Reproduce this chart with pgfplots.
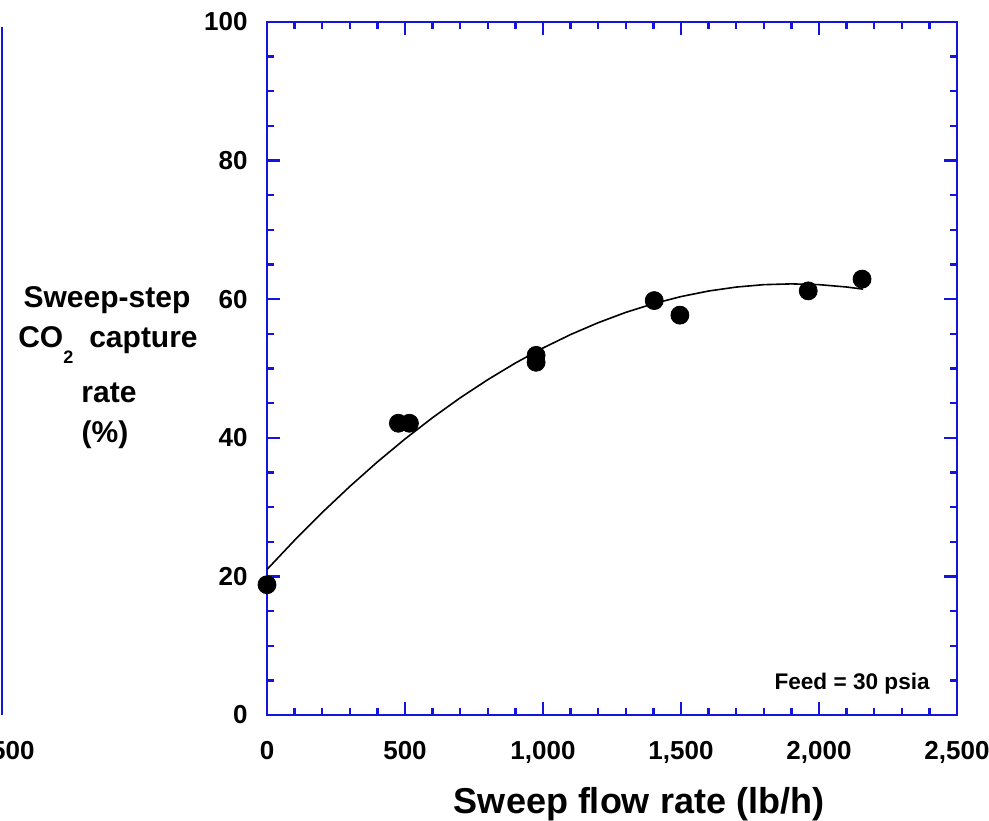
\documentclass[border=0pt]{standalone}
\usepackage{pgfplots}
\pgfplotsset{compat=1.18}
\usepackage{fontspec}
\setmainfont{Liberation Sans}
\definecolor{axblue}{RGB}{20,20,225}

\begin{document}
\begin{tikzpicture}[font=\bfseries]
\begin{axis}[
  scale only axis,
  width=345pt, height=346.5pt,
  xmin=0, xmax=2500, ymin=0, ymax=100,
  clip=false,
  axis line style={draw=axblue, line width=1.2pt},
  tick style={draw=axblue, line width=1.2pt},
  tick align=inside,
  major tick length=6.5pt, minor tick length=3.5pt,
  xtick={0,500,1000,1500,2000,2500},
  ytick={0,20,40,60,80,100},
  minor x tick num=4, minor y tick num=3,
  xticklabels={0,500,{1,000},{1,500},{2,000},{2,500}},
  yticklabels={0,20,40,60,80,100},
  xticklabel style={anchor=north, inner sep=0pt, yshift=-13pt,
    font=\fontsize{13}{13}\selectfont\bfseries},
  yticklabel style={anchor=east, inner sep=0pt, xshift=-9.5pt,
    font=\fontsize{13}{13}\selectfont\bfseries},
]
% fitted curve
\addplot[black, line width=0.8pt, no marks] coordinates {
  (0,21.00) (100,25.22) (200,29.22) (300,32.98) (400,36.52)
  (500,39.83) (600,42.91) (700,45.77) (800,48.39) (900,50.79)
  (1000,52.96) (1100,54.90) (1200,56.61) (1300,58.10) (1400,59.35)
  (1500,60.38) (1600,61.18) (1700,61.75) (1800,62.10) (1900,62.21)
  (2000,62.10) (2100,61.76) (2160,61.45)
};
% measured points
\addplot[only marks, mark=*, mark size=4.5pt, black] coordinates {
  (0,18.8) (476,42.1) (516,42.1) (975,51.9) (975,50.9)
  (1403,59.8) (1496,57.7) (1961,61.2) (2156,62.9)
};
\node[anchor=base east, inner sep=0pt, font=\fontsize{11.3}{11.3}\selectfont\bfseries]
  at (rel axis cs:0.961,0.0361) {Feed = 30 psia};
\end{axis}

\begin{scope}[shift={(current axis.south west)}]
  % labels
  \node[anchor=base, inner sep=0pt, font=\fontsize{18}{18}\selectfont\bfseries]
    at (186pt,-49pt) {Sweep flow rate (lb/h)};
  \begin{scope}[every node/.style={anchor=base, inner sep=0pt,
      font=\fontsize{15}{15}\selectfont\bfseries}]
    \node at (-80pt,204pt) {Sweep-step};
    \node at (-79.5pt,184pt) {CO\raisebox{-8pt}[0pt][0pt]{\fontsize{9}{9}\selectfont 2}\hspace{8pt}capture};
    \node at (-79pt,156.5pt) {rate};
    \node at (-81pt,136.5pt) {(\%)};
  \end{scope}
  % edge of the neighbouring panel
  \draw[axblue, line width=1.3pt] (-132.5pt,0pt) -- (-132.5pt,344pt);
  \node[anchor=north, inner sep=0pt, font=\fontsize{13}{13}\selectfont\bfseries]
    at (-132.5pt,-13pt) {2,500};
  \pgfresetboundingbox
  \path[use as bounding box] (-133.5pt,-52.5pt) rectangle (361pt,357.5pt);
\end{scope}
\end{tikzpicture}
\end{document}
